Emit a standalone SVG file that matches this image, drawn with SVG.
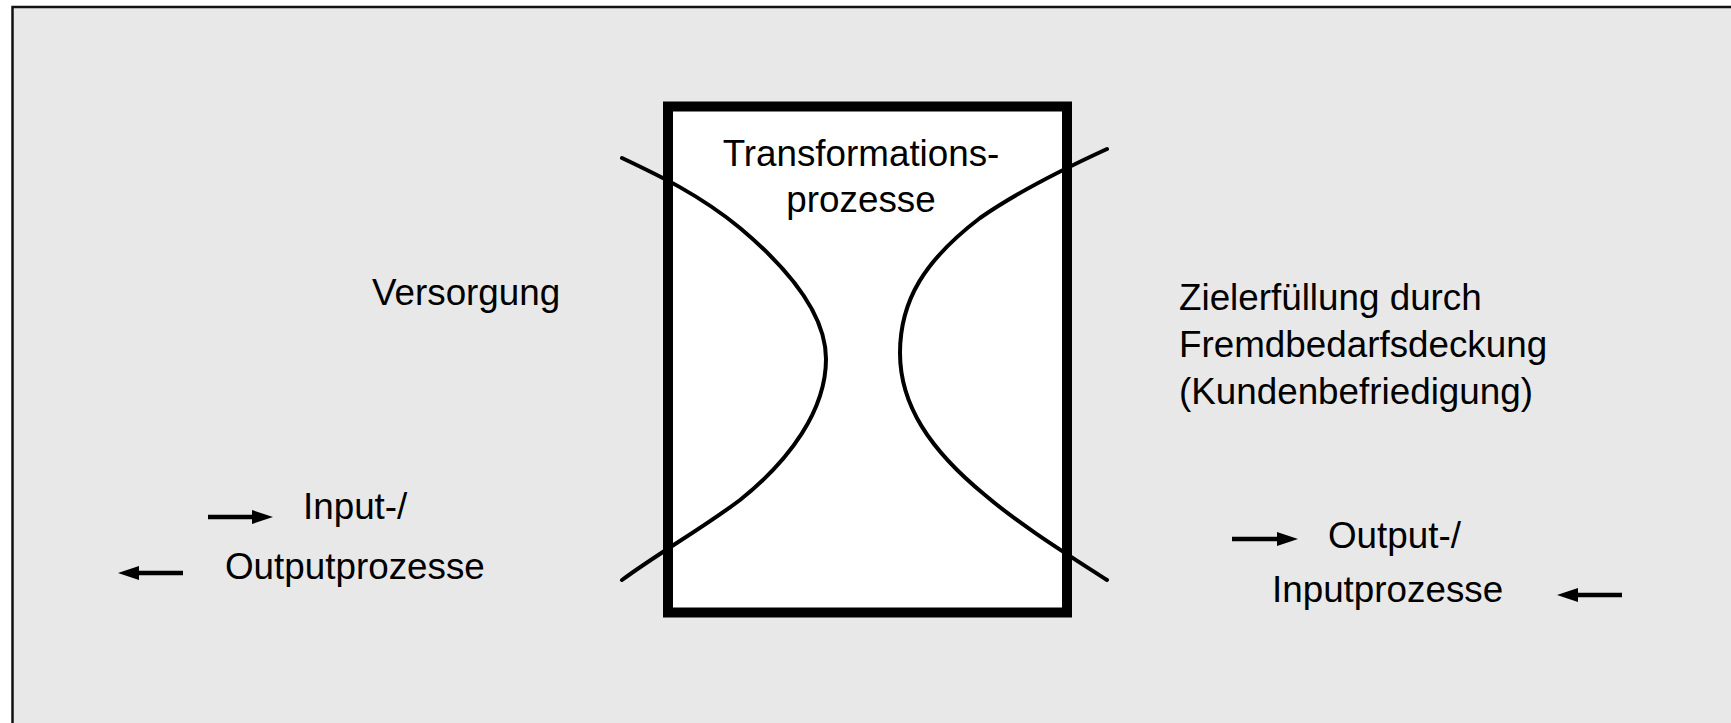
<svg xmlns="http://www.w3.org/2000/svg" width="1731" height="723" viewBox="0 0 1731 723">
<style>
.t{font-family:"Liberation Sans",Arial,sans-serif;font-size:36.8px;fill:#000}
.c{fill:none;stroke:#000;stroke-width:4;stroke-linecap:round;stroke-linejoin:round}
.a{stroke:#000;stroke-width:4.5;fill:none}
</style>
<rect x="0" y="0" width="1731" height="723" fill="#ffffff"/>
<g id="frame"><rect x="12.5" y="7" width="1740" height="740" fill="#e8e8e8" stroke="#111" stroke-width="2.5"/></g>
<g id="box">
<rect x="668" y="106.5" width="399" height="506" fill="#fff" stroke="#000" stroke-width="10"/>
<text class="t" x="861" y="166" text-anchor="middle">Transformations-</text>
<text class="t" x="861" y="212" text-anchor="middle">prozesse</text>
</g>
<g id="connectors">
<path class="c" d="M622,158 C660,176 700,195 740,228 C790,270 826,315 826,359 C826,410 790,460 740,500 C700,530 660,552 622,580"/>
<path class="c" d="M1107,149 C1070,166 1020,190 980,218 C925,260 900,300 900,353 C900,405 930,450 985,495 C1020,525 1070,556 1107,580"/>
</g>
<g id="versorgung"><text class="t" x="372" y="305">Versorgung</text></g>
<g id="ziel">
<text class="t" x="1179" y="310">Zielerfüllung durch</text>
<text class="t" x="1179" y="357">Fremdbedarfsdeckung</text>
<text class="t" x="1179" y="404">(Kundenbefriedigung)</text>
</g>
<g id="inout-left">
<line class="a" x1="208" y1="517" x2="256" y2="517"/>
<polygon points="252,510 273,517 252,524"/>
<text class="t" x="303" y="519">Input-/</text>
<line class="a" x1="183" y1="573" x2="135" y2="573"/>
<polygon points="139,566 118,573 139,580"/>
<text class="t" x="225" y="579">Outputprozesse</text>
</g>
<g id="inout-right">
<line class="a" x1="1232" y1="539" x2="1281" y2="539"/>
<polygon points="1277,532 1298,539 1277,546"/>
<text class="t" x="1328" y="548">Output-/</text>
<text class="t" x="1272" y="602">Inputprozesse</text>
<line class="a" x1="1622" y1="595" x2="1574" y2="595"/>
<polygon points="1578,588 1557,595 1578,602"/>
</g>
</svg>
